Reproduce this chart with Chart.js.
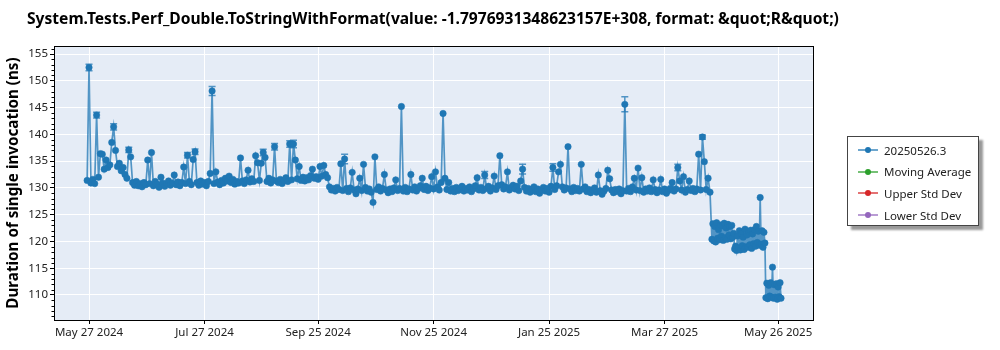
<!DOCTYPE html>
<html><head><meta charset="utf-8">
<script src="https://cdn.jsdelivr.net/npm/chart.js@4.4.1/dist/chart.umd.min.js"></script>
<style>
html,body{margin:0;padding:0;background:#fff;}
#wrap{position:relative;width:1000px;height:350px;overflow:hidden;}
#title{position:absolute;left:27px;top:7px;font:bold 15.6px "Noto Sans",sans-serif;color:#000;white-space:nowrap;}
#legend{position:absolute;left:847px;top:136px;width:130px;height:88px;border:1px solid #444;background:#fff;box-shadow:4px 4px 2px rgba(0,0,0,0.4);font:11.5px "Noto Sans",sans-serif;color:#222;}
.li{position:absolute;left:10px;height:16px;display:flex;align-items:center;white-space:nowrap;}
.sw{position:relative;width:20px;height:16px;margin-right:6px;}
.sw .ln{position:absolute;left:0;top:7px;width:20px;height:2px;opacity:0.65;}
.sw .dt{position:absolute;left:7px;top:5px;width:6px;height:6px;border-radius:50%;}
</style></head>
<body>
<div id="wrap">
<canvas id="c" width="1000" height="350"></canvas>
<div id="title">System.Tests.Perf_Double.ToStringWithFormat(value: -1.7976931348623157E+308, format: &amp;quot;R&amp;quot;)</div>
<div id="legend"></div>
</div>
<script>
// ---- data (x = days since May 27 2024) ----
const seriesName = '20250526.3';
const otherSeries = ['Moving Average', 'Upper Std Dev', 'Lower Std Dev'];
const seriesColors = ['#1f77b4', '#2ca02c', '#d62728', '#9467bd'];
const tickDays = [0, 61, 121, 182, 243, 304, 364];
const tickLabels = ['May 27 2024', 'Jul 27 2024', 'Sep 25 2024', 'Nov 25 2024', 'Jan 25 2025', 'Mar 27 2025', 'May 26 2025'];
const yTicks = [110, 115, 120, 125, 130, 135, 140, 145, 150, 155];

const runDays = [
-1,0,1,2,3,4,5,6,7,8,9,10,11,12,13,14,15,16,17,18,
19,20,21,22,23,24,25,26,27,28,29,30,31,32,33,34,35,36,37,38,
39,40,41,42,43,44,45,46,47,48,49,50,51,52,53,54,55,56,57,58,
59,60,61,62,63,64,65,66,67,68,69,70,71,72,73,74,75,76,77,78,
79,80,81,82,83,84,85,86,87,88,89,90,91,92,93,94,95,96,97,98,
99,100,101,102,103,104,105,106,107,108,109,110,111,112,113,114,115,116,117,118,
119,120,121,122,123,124,125,126,127,128,129,130,131,132,133,134,135,136,137,138,
139,140,141,142,143,144,145,146,147,148,149,150,151,152,153,154,155,156,157,158,
159,160,161,162,163,164,165,166,167,168,169,170,171,172,173,174,175,176,177,178,
179,180,181,182,183,184,185,186,187,188,189,190,191,192,193,194,195,196,197,198,
199,200,201,202,203,204,205,206,207,208,209,210,211,212,213,214,215,216,217,218,
219,220,221,222,223,224,225,226,227,228,229,230,231,232,233,234,235,236,237,238,
239,240,241,242,243,244,245,246,247,248,249,250,251,252,253,254,255,256,257,258,
259,260,261,262,263,264,265,266,267,268,269,270,271,272,273,274,275,276,277,278,
279,280,281,282,283,284,285,286,287,288,289,290,291,292,293,294,295,296,297,298,
299,300,301,302,303,304,305,306,307,308,309,310,311,312,313,314,315,316,317,318,
319,320,321,322,323,324,325,326,327,328,
329,329.5,330,330.5,331,331.5,332,332.5,333,333.5,334,334.5,335,335.5,336,336.5,337,337.5,338,338.5,
339,339.5,340,340.5,341,341.5,342,342.5,343,343.5,344,344.5,345,345.5,346,346.5,347,347.5,348,348.5,
349,349.5,350,350.5,351,351.5,352,352.5,353,353.5,354,354.5,355,355.5,356,356.5,357,
357.5,358,358.5,359,359.5,360,360.5,361,361.5,362,362.5,363,363.5,364,364.5,365,365.5
];
const durations = [
131.4,152.5,130.9,131.6,130.8,143.6,132.0,136.4,136.3,133.5,135.2,133.8,134.3,138.5,141.4,137.0,134.0,134.6,133.2,133.8,
132.5,131.8,137.1,135.8,131.0,130.5,131.2,130.4,130.8,130.2,131.0,130.6,135.2,130.8,136.6,130.4,131.2,130.7,130.1,132.0,
130.9,130.3,130.8,131.3,130.5,130.9,132.4,130.6,131.1,130.4,131.0,133.9,130.8,136.1,131.2,130.6,135.3,136.75,131.0,130.5,
131.3,130.7,131.0,130.4,131.2,132.7,148.1,130.8,133.0,131.1,130.6,131.4,130.9,131.8,131.3,132.2,131.0,131.6,130.7,131.2,
130.9,135.6,131.3,130.8,131.5,133.3,131.1,131.7,131.2,136.0,134.7,131.4,134.6,136.6,135.7,131.2,131.8,130.9,131.5,137.7,
131.3,131.0,131.6,130.8,131.4,131.9,131.2,138.2,131.5,138.2,135.2,131.7,134.0,131.4,132.0,131.3,131.9,131.5,132.3,133.5,
131.8,132.1,131.6,134.0,132.2,134.2,132.5,131.9,130.2,129.6,129.9,129.4,130.1,129.7,134.5,129.5,135.4,129.9,129.3,130.0,
132.9,129.6,128.9,129.8,131.8,129.5,134.4,130.1,129.4,129.8,129.2,127.3,135.8,129.7,130.2,129.4,129.9,132.5,129.6,129.1,
129.8,129.3,130.0,131.5,129.5,129.9,145.2,129.4,130.1,129.3,129.8,132.5,129.6,130.2,129.4,129.9,130.4,131.8,129.7,130.3,
129.5,130.0,132.1,129.8,133.0,130.2,129.6,131.0,143.9,131.8,129.7,131.0,129.4,129.9,129.3,130.1,129.5,129.8,130.3,129.4,
129.9,129.6,130.2,129.3,129.8,130.4,131.9,129.6,130.1,129.5,132.4,129.9,130.3,129.4,130.0,132.2,129.7,130.4,136.0,130.6,
129.8,130.2,133.0,129.6,130.1,130.5,129.8,130.3,129.5,131.3,133.5,130.1,129.4,129.9,129.2,129.7,130.2,129.3,129.8,129.0,
129.6,130.1,129.4,129.9,129.2,130.3,133.8,129.7,130.4,133.0,134.4,130.2,129.6,130.0,137.7,129.8,129.3,130.1,129.5,129.9,
129.4,134.4,129.8,130.2,129.3,129.7,129.1,129.6,130.0,129.2,132.4,129.5,128.8,129.4,129.9,133.3,131.7,129.6,129.1,129.7,
129.3,129.8,128.9,129.5,145.6,129.4,129.9,129.3,130.2,131.8,129.6,133.7,129.5,131.9,129.2,129.8,129.4,130.0,129.3,131.5,
129.7,129.1,129.6,131.6,129.3,129.8,129.0,129.5,129.9,131.0,129.4,129.8,133.8,131.3,129.6,132.1,129.2,129.7,131.3,129.5,
129.9,129.3,129.8,136.3,129.6,139.5,134.9,129.7,131.8,129.2,
120.4,123.3,120.1,122.8,119.9,123.5,120.6,122.2,120.3,123.1,121.0,122.9,120.2,123.4,120.7,122.5,120.4,123.2,121.2,122.8,
120.5,123.0,120.8,121.5,118.6,119.1,118.3,121.0,118.8,122.0,118.4,121.5,119.2,120.8,118.5,122.3,119.0,121.2,118.9,121.8,
119.4,122.1,118.7,121.4,119.6,122.2,119.1,122.8,119.8,121.9,119.3,128.2,119.5,122.0,118.9,121.7,119.7,
109.5,112.2,109.3,111.8,109.8,112.3,109.6,115.2,109.4,111.9,109.6,112.1,109.2,111.5,109.7,112.3,109.4
];
// error bars visible on some runs
const errDays = [0, 4, 13, 21, 52, 56, 65, 92, 98, 106, 108, 135, 209, 229, 245, 283, 311, 324];
const errSizes = [0.6, 0.55, 0.6, 0.5, 0.5, 0.5, 0.85, 0.6, 0.6, 0.6, 0.7, 0.9, 0.65, 0.9, 0.7, 1.4, 0.6, 0.4];

const FONT = '"Noto Sans", sans-serif';
const BLUE = seriesColors[0];

const bgPlugin = {
  id: 'plotBg',
  beforeDraw(chart) {
    const a = chart.chartArea, ctx = chart.ctx;
    ctx.save(); ctx.fillStyle = '#e5ecf6';
    ctx.fillRect(a.left, a.top, a.right - a.left, a.bottom - a.top);
    ctx.restore();
  },
  afterDraw(chart) {
    const a = chart.chartArea, ctx = chart.ctx, y = chart.scales.y;
    ctx.save();
    ctx.strokeStyle = '#000'; ctx.lineWidth = 1;
    ctx.strokeRect(Math.round(a.left) + 0.5, Math.round(a.top) + 0.5, Math.round(a.right - a.left), Math.round(a.bottom - a.top));
    ctx.beginPath();
    for (let v = Math.ceil(y.min); v <= Math.floor(y.max); v++) {
      if (v % 5 === 0) continue;
      const py = Math.round(y.getPixelForValue(v)) + 0.5;
      ctx.moveTo(a.left - 2.5, py); ctx.lineTo(a.left, py);
    }
    ctx.stroke();
    ctx.restore();
  }
};

const errPlugin = {
  id: 'errBars',
  beforeDatasetsDraw(chart) {
    const ctx = chart.ctx, xs = chart.scales.x, ys = chart.scales.y;
    ctx.save();
    ctx.strokeStyle = 'rgba(31,119,180,0.75)'; ctx.lineWidth = 1.5;
    errDays.forEach((d, i) => {
      const k = runDays.indexOf(d);
      if (k < 0) return;
      const v = durations[k], e = errSizes[i];
      const px = xs.getPixelForValue(d);
      const t = ys.getPixelForValue(v + e), b = ys.getPixelForValue(v - e);
      ctx.beginPath();
      ctx.moveTo(px, t); ctx.lineTo(px, b);
      ctx.moveTo(px - 3.5, t); ctx.lineTo(px + 3.5, t);
      ctx.moveTo(px - 3.5, b); ctx.lineTo(px + 3.5, b);
      ctx.stroke();
    });
    ctx.restore();
  }
};

const legendPlugin = {
  id: 'htmlLegend',
  afterUpdate(chart) {
    const box = document.getElementById('legend');
    box.innerHTML = '';
    chart.data.datasets.forEach((ds, i) => {
      const row = document.createElement('div');
      row.className = 'li';
      row.style.top = (5 + i * 21.7) + 'px';
      row.innerHTML = '<span class="sw"><span class="ln" style="background:' + ds.pointBackgroundColor +
        '"></span><span class="dt" style="background:' + ds.pointBackgroundColor + '"></span></span><span>' + ds.label + '</span>';
      box.appendChild(row);
    });
  }
};

const mainData = runDays.map((d, i) => ({ x: d, y: durations[i] }));
const datasets = [{
  label: seriesName, data: mainData,
  borderColor: 'rgba(31,119,180,0.75)', borderWidth: 1.7,
  pointRadius: 3.2, pointBackgroundColor: BLUE, pointBorderColor: 'rgba(31,119,180,0.55)', pointBorderWidth: 1
}].concat(otherSeries.map((n, i) => ({
  label: n, data: [], borderColor: seriesColors[i + 1], pointBackgroundColor: seriesColors[i + 1]
})));

new Chart(document.getElementById('c'), {
  type: 'line',
  data: { datasets },
  options: {
    responsive: false, animation: false, devicePixelRatio: 1,
    layout: { padding: { left: 0, right: 187, top: 46, bottom: 0 } },
    plugins: { legend: { display: false }, title: { display: false }, tooltip: { enabled: false } },
    scales: {
      x: {
        type: 'linear', min: -18.5, max: 382.4,
        afterBuildTicks(s) { s.ticks = tickDays.map(v => ({ value: v })); },
        afterFit(s) { s.height = 30; },
        ticks: { autoSkip: false, maxRotation: 0, padding: 2, color: '#222', font: { family: FONT, size: 11.5 },
          callback: (v) => { const k = tickDays.indexOf(v); return k >= 0 ? tickLabels[k] : ''; } },
        grid: { color: '#ffffff', lineWidth: 1, tickColor: '#000', tickLength: 4 },
        border: { color: '#000', width: 1 }
      },
      y: {
        min: 105.33, max: 156.5,
        afterBuildTicks(s) { s.ticks = yTicks.map(v => ({ value: v })); },
        afterFit(s) { s.width = 54; },
        ticks: { padding: 2, color: '#222', font: { family: FONT, size: 11.5 } },
        grid: { color: '#ffffff', lineWidth: 1, tickColor: '#000', tickLength: 4 },
        border: { color: '#000', width: 1 },
        title: { display: true, text: 'Duration of single invocation (ns)', color: '#000',
          font: { family: FONT, size: 15.2, weight: 'bold' }, padding: { top: 5, bottom: 0 } }
      }
    }
  },
  plugins: [bgPlugin, errPlugin, legendPlugin]
});
</script>
</body></html>
